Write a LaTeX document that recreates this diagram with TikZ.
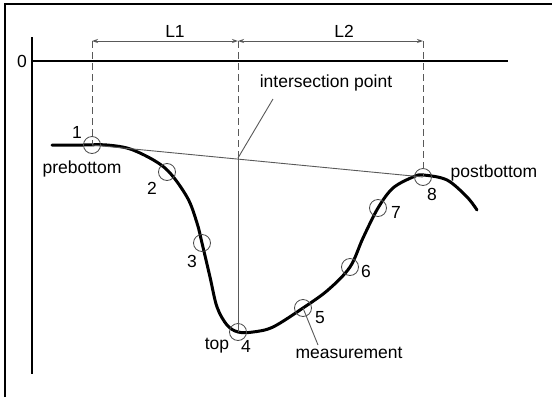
\documentclass[tikz,border=0pt]{standalone}
\usepackage{fontspec}
\setmainfont{Liberation Sans}
\usetikzlibrary{arrows.meta}
\begin{document}
\begin{tikzpicture}[x=1pt,y=-1pt,
  lbl/.style={inner sep=0pt, font=\fontsize{17.5}{20}\selectfont},
  meas/.style={circle, draw=black!70, line width=0.8pt, minimum size=17pt, inner sep=0pt},
  thinline/.style={draw=black!65, line width=0.9pt},
  axisline/.style={draw=black, line width=1.6pt},
  dimline/.style={draw=black!65, line width=0.9pt, {Stealth[length=6pt,width=4pt]}-{Stealth[length=6pt,width=4pt]}},
  curveline/.style={draw=black, line width=3pt, line cap=round, line join=round}]
\useasboundingbox (0,0) rectangle (552,397);
\fill[white] (0,0) rectangle (552,397);
% frame
\coordinate (f1) at (5,397);
\coordinate (f2) at (5,4);
\coordinate (f3) at (552,4);
\draw[axisline] (f1) -- (f2) -- (f3);
% axes
\coordinate (ay1) at (32,37);
\coordinate (ay2) at (32,374);
\coordinate (ax1) at (32,61);
\coordinate (ax2) at (508,61);
\draw[axisline] (ay1) -- (ay2);
\draw[axisline] (ax1) -- (ax2);
\node[lbl] (zero) at (22,61) {0};
% curve
\draw[curveline] plot[smooth, tension=0.55] coordinates {
 (52,145) (83,145) (107,145) (133,150) (165,168) (187,197) (197,223) (202,243)
 (210,277) (217,307) (227,325) (238,332) (253,332) (273,327) (303,308) (328,290)
 (350,267) (363,238) (378,208) (393,188) (413,177) (423,175) (447,180) (467,197) (477,210)};
% measurement circles
\node[meas] (p1) at (92,145) {};
\node[meas] (p2) at (167,172) {};
\node[meas] (p3) at (202,243) {};
\node[meas] (p4) at (238,332) {};
\node[meas] (p5) at (303,308) {};
\node[meas] (p6) at (350,267) {};
\node[meas] (p7) at (378,208) {};
\node[meas] (p8) at (423,177) {};
% line between pre and post bottom
\draw[thinline] (p1.center) -- (p8.center);
% dimension lines
\coordinate (d1) at (92,41);
\coordinate (d2) at (238,41);
\coordinate (d3) at (423,41);
\coordinate (ip) at (238,158);
\draw[thinline, dashed, dash pattern=on 7pt off 4pt] (d1) -- (p1.center);
\draw[thinline, dashed, dash pattern=on 7pt off 4pt] (d2) -- (ip);
\draw[thinline, dashed, dash pattern=on 7pt off 4pt] (d3) -- (p8.center);
\draw[thinline] (ip) -- (p4.center);
\draw[dimline] (d1) -- (d2);
\draw[dimline] (d2) -- (d3);
\node[lbl] (L1) at (175,31) {L1};
\node[lbl] (L2) at (344,31) {L2};
% intersection point label
\node[lbl] (iptext) at (326,83) {intersection point};
\coordinate (ipend) at (273,99);
\draw[thinline] (ip) -- (ipend);
% labels
\node[lbl] (n1) at (77,132) {1};
\node[lbl] (pre) at (82,169) {prebottom};
\node[lbl] (n2) at (152,188) {2};
\node[lbl] (n3) at (192,261) {3};
\node[lbl] (top) at (217,346) {top};
\node[lbl] (n4) at (246,346) {4};
\node[lbl] (n5) at (320,318) {5};
\node[lbl] (n6) at (366,271) {6};
\node[lbl] (n7) at (396,212) {7};
\node[lbl] (n8) at (432,194) {8};
\node[lbl] (post) at (494,173) {postbottom};
\node[lbl] (meast) at (349,353) {measurement};
\coordinate (mend) at (318,345);
\draw[thinline] (p5.center) -- (mend);
\end{tikzpicture}
\end{document}
